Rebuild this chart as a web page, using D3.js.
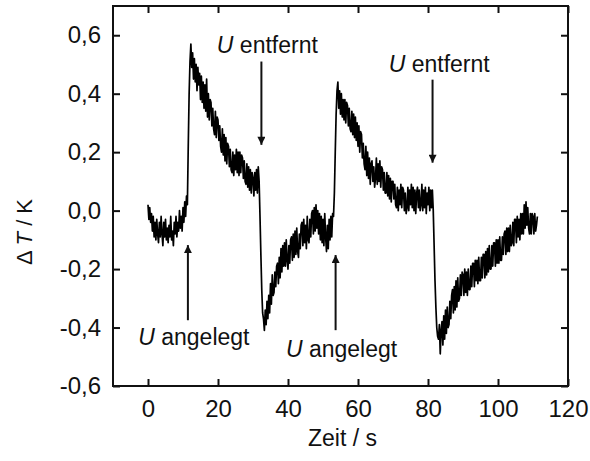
<!DOCTYPE html>
<html>
<head>
<meta charset="utf-8">
<script src="https://cdn.jsdelivr.net/npm/d3@7"></script>
<style>
  html, body { margin: 0; padding: 0; background: #fff; }
  svg { display: block; }
  text { font-family: "Liberation Sans", Arial, Helvetica, sans-serif; fill: #111; }
</style>
</head>
<body>
<svg id="chart" width="590" height="461"></svg>
<script>
// Temperature change ΔT (K), sampled every 0.25 s starting at t = 0 s.
// One row per second of recording.
const sampleStep = 0.25;
const deltaT = [
  0.02, -0.03, 0.01, -0.04,
  -0.01, -0.07, -0.02, -0.09,
  -0.04, -0.10, -0.03, -0.08,
  -0.11, -0.04, -0.09, -0.02,
  -0.08, -0.12, -0.04, -0.09,
  -0.03, -0.10, -0.06, -0.11,
  -0.05, -0.09, -0.02, -0.10,
  -0.07, -0.12, -0.04, -0.08,
  -0.02, -0.09, -0.04, -0.07,
  0.00, -0.06, -0.02, -0.07,
  0.01, -0.04, 0.03, -0.02,
  0.05, 0.02, 0.22, 0.40,
  0.51, 0.57, 0.49, 0.54,
  0.45, 0.52, 0.44, 0.50,
  0.41, 0.49, 0.43, 0.47,
  0.38, 0.46, 0.37, 0.44,
  0.35, 0.43, 0.34, 0.45,
  0.32, 0.40, 0.31, 0.38,
  0.37, 0.29, 0.35, 0.28,
  0.26, 0.34, 0.25, 0.32,
  0.31, 0.24, 0.29, 0.22,
  0.20, 0.28, 0.19, 0.26,
  0.17, 0.25, 0.16, 0.23,
  0.22, 0.15, 0.21, 0.14,
  0.13, 0.20, 0.12, 0.19,
  0.14, 0.21, 0.13, 0.20,
  0.12, 0.20, 0.13, 0.19,
  0.18, 0.11, 0.17, 0.10,
  0.09, 0.16, 0.08, 0.15,
  0.07, 0.14, 0.06, 0.13,
  0.11, 0.05, 0.13, 0.07,
  0.14, 0.06, 0.15, 0.10,
  -0.02, -0.15, -0.27, -0.35,
  -0.37, -0.41, -0.34, -0.39,
  -0.31, -0.37, -0.29, -0.35,
  -0.25, -0.32, -0.22, -0.29,
  -0.28, -0.21, -0.26, -0.19,
  -0.18, -0.25, -0.16, -0.23,
  -0.13, -0.21, -0.12, -0.19,
  -0.11, -0.19, -0.10, -0.17,
  -0.20, -0.12, -0.18, -0.10,
  -0.09, -0.17, -0.08, -0.16,
  -0.07, -0.15, -0.06, -0.14,
  -0.16, -0.08, -0.13, -0.05,
  -0.04, -0.12, -0.03, -0.11,
  -0.05, -0.13, -0.02, -0.10,
  -0.11, -0.03, -0.09, -0.01,
  0.00, -0.08, 0.01, -0.07,
  0.02, -0.06, 0.00, -0.08,
  -0.01, -0.10, -0.02, -0.11,
  -0.03, -0.12, -0.01, -0.09,
  -0.14, -0.05, -0.13, -0.03,
  -0.10, -0.02, -0.09, -0.01,
  -0.02, 0.06, 0.20, 0.33,
  0.41, 0.44, 0.35, 0.41,
  0.33, 0.40, 0.32, 0.38,
  0.31, 0.38, 0.30, 0.37,
  0.36, 0.29, 0.35, 0.28,
  0.27, 0.34, 0.26, 0.33,
  0.25, 0.32, 0.24, 0.30,
  0.22, 0.29, 0.20, 0.27,
  0.26, 0.18, 0.23, 0.16,
  0.14, 0.22, 0.12, 0.20,
  0.11, 0.18, 0.09, 0.16,
  0.17, 0.10, 0.15, 0.08,
  0.11, 0.18, 0.09, 0.16,
  0.10, 0.17, 0.08, 0.15,
  0.14, 0.07, 0.13, 0.06,
  0.06, 0.13, 0.05, 0.12,
  0.04, 0.11, 0.03, 0.10,
  0.10, 0.04, 0.09, 0.02,
  0.01, 0.08, 0.00, 0.07,
  0.02, 0.09, 0.01, 0.08,
  0.07, 0.00, 0.06, -0.01,
  0.01, 0.08, 0.00, 0.07,
  0.02, 0.09, 0.01, 0.08,
  0.00, 0.07, -0.01, 0.06,
  0.08, 0.01, 0.07, 0.00,
  0.02, 0.09, 0.00, 0.07,
  0.01, 0.08, -0.01, 0.06,
  0.02, 0.08, 0.00, 0.07,
  0.01, 0.07, 0.00, -0.12,
  -0.24, -0.33, -0.40, -0.43,
  -0.44, -0.39, -0.49, -0.41,
  -0.38, -0.46, -0.36, -0.44,
  -0.34, -0.42, -0.33, -0.40,
  -0.39, -0.31, -0.37, -0.29,
  -0.27, -0.35, -0.26, -0.34,
  -0.24, -0.33, -0.23, -0.31,
  -0.30, -0.22, -0.29, -0.21,
  -0.22, -0.29, -0.20, -0.28,
  -0.21, -0.29, -0.20, -0.27,
  -0.27, -0.19, -0.26, -0.18,
  -0.18, -0.26, -0.17, -0.24,
  -0.17, -0.25, -0.16, -0.24,
  -0.24, -0.16, -0.23, -0.15,
  -0.15, -0.23, -0.14, -0.22,
  -0.13, -0.21, -0.12, -0.20,
  -0.20, -0.12, -0.19, -0.11,
  -0.11, -0.19, -0.10, -0.18,
  -0.10, -0.18, -0.09, -0.17,
  -0.17, -0.09, -0.15, -0.08,
  -0.07, -0.15, -0.06, -0.14,
  -0.06, -0.14, -0.05, -0.12,
  -0.11, -0.04, -0.12, -0.03,
  -0.03, -0.11, -0.02, -0.09,
  -0.03, -0.10, -0.01, -0.08,
  -0.01, -0.08, 0.02, -0.06,
  0.03, -0.05, 0.01, -0.06,
  -0.08, -0.01, -0.08, -0.01,
  -0.02, -0.08, -0.01, -0.07,
  -0.05, -0.02
];

// Axis ticks
const xTicks = [0, 20, 40, 60, 80, 100, 120];
const yTicks = [-0.6, -0.4, -0.2, 0.0, 0.2, 0.4, 0.6];

// Voltage events: arrow time (s), arrow tail and tip (K), label anchor (s, K)
const eventKinds  = ["entfernt", "entfernt", "angelegt", "angelegt"];
const eventTimes  = [32.4, 81.3, 11.4, 53.6];
const arrowTails  = [0.51, 0.448, -0.375, -0.409];
const arrowTips   = [0.225, 0.164, -0.118, -0.152];
const labelTimes  = [34.1, 83.2, 13.1, 55.3];
const labelValues = [0.54, 0.475, -0.46, -0.50];

const svg = d3.select("#chart");
const margin = { left: 113, right: 22, top: 6, bottom: 75 };
const W = 590, H = 461;

const x = d3.scaleLinear().domain([-10, 120]).range([margin.left, W - margin.right]);
const y = d3.scaleLinear().domain([-0.6, 0.7]).range([H - margin.bottom, margin.top]);

const fmt = v => d3.format(".1f")(v).replace(".", ",").replace("−", "-");

const tickLen = 7;
const tickFont = 24;
const textFont = 23;

// Bottom axis (labelled) and top axis (ticks only)
const gx = svg.append("g").attr("transform", `translate(0,${y.range()[0]})`)
  .call(d3.axisBottom(x).tickValues(xTicks).tickSize(-tickLen).tickPadding(14).tickFormat(d3.format("d")));
const gxt = svg.append("g").attr("transform", `translate(0,${y.range()[1]})`)
  .call(d3.axisTop(x).tickValues(xTicks).tickSize(-tickLen).tickFormat(""));
// Left axis (labelled) and right axis (ticks only)
const gy = svg.append("g").attr("transform", `translate(${x.range()[0]},0)`)
  .call(d3.axisLeft(y).tickValues(yTicks).tickSize(-tickLen).tickPadding(12).tickFormat(fmt));
const gyr = svg.append("g").attr("transform", `translate(${x.range()[1]},0)`)
  .call(d3.axisRight(y).tickValues(yTicks).tickSize(-tickLen).tickFormat(""));

[gx, gxt, gy, gyr].forEach(g => {
  g.select(".domain").remove();
  g.selectAll(".tick line").attr("stroke", "#111").attr("stroke-width", 2);
  g.selectAll(".tick text").attr("font-size", tickFont)
    .attr("font-family", '"Liberation Sans", Arial, sans-serif').attr("fill", "#111");
});

// Plot frame
svg.append("rect")
  .attr("x", x.range()[0]).attr("y", y.range()[1])
  .attr("width", x.range()[1] - x.range()[0])
  .attr("height", y.range()[0] - y.range()[1])
  .attr("fill", "none").attr("stroke", "#111").attr("stroke-width", 2);

// Temperature trace
const line = d3.line()
  .x((d, i) => x(i * sampleStep))
  .y(d => y(d));
svg.append("path")
  .datum(deltaT)
  .attr("d", line)
  .attr("fill", "none")
  .attr("stroke", "#000")
  .attr("stroke-width", 1.7)
  .attr("stroke-linejoin", "round");

// Arrowhead marker
svg.append("defs").append("marker")
  .attr("id", "head")
  .attr("viewBox", "0 0 10 10")
  .attr("refX", 10).attr("refY", 5)
  .attr("markerWidth", 5).attr("markerHeight", 4)
  .attr("markerUnits", "strokeWidth")
  .attr("orient", "auto")
  .append("path").attr("d", "M0,0 L10,5 L0,10 Z").attr("fill", "#111");

// Event arrows and labels
eventTimes.forEach((t, i) => {
  svg.append("line")
    .attr("x1", x(t)).attr("x2", x(t))
    .attr("y1", y(arrowTails[i])).attr("y2", y(arrowTips[i]))
    .attr("stroke", "#111").attr("stroke-width", 2)
    .attr("marker-end", "url(#head)");
  const lbl = svg.append("text")
    .attr("x", x(labelTimes[i])).attr("y", y(labelValues[i]))
    .attr("text-anchor", "middle").attr("font-size", textFont);
  lbl.append("tspan").attr("font-style", "italic").text("U");
  lbl.append("tspan").text(" " + eventKinds[i]);
});

// Axis titles
svg.append("text")
  .attr("x", (x.range()[0] + x.range()[1]) / 2 + 2).attr("y", 446)
  .attr("text-anchor", "middle").attr("font-size", textFont)
  .text("Zeit / s");

const yt = svg.append("text")
  .attr("transform", "translate(32,232) rotate(-90)")
  .attr("text-anchor", "middle").attr("font-size", 22);
yt.append("tspan").text("Δ ");
yt.append("tspan").attr("font-style", "italic").text("T");
yt.append("tspan").text(" / K");
</script>
</body>
</html>
